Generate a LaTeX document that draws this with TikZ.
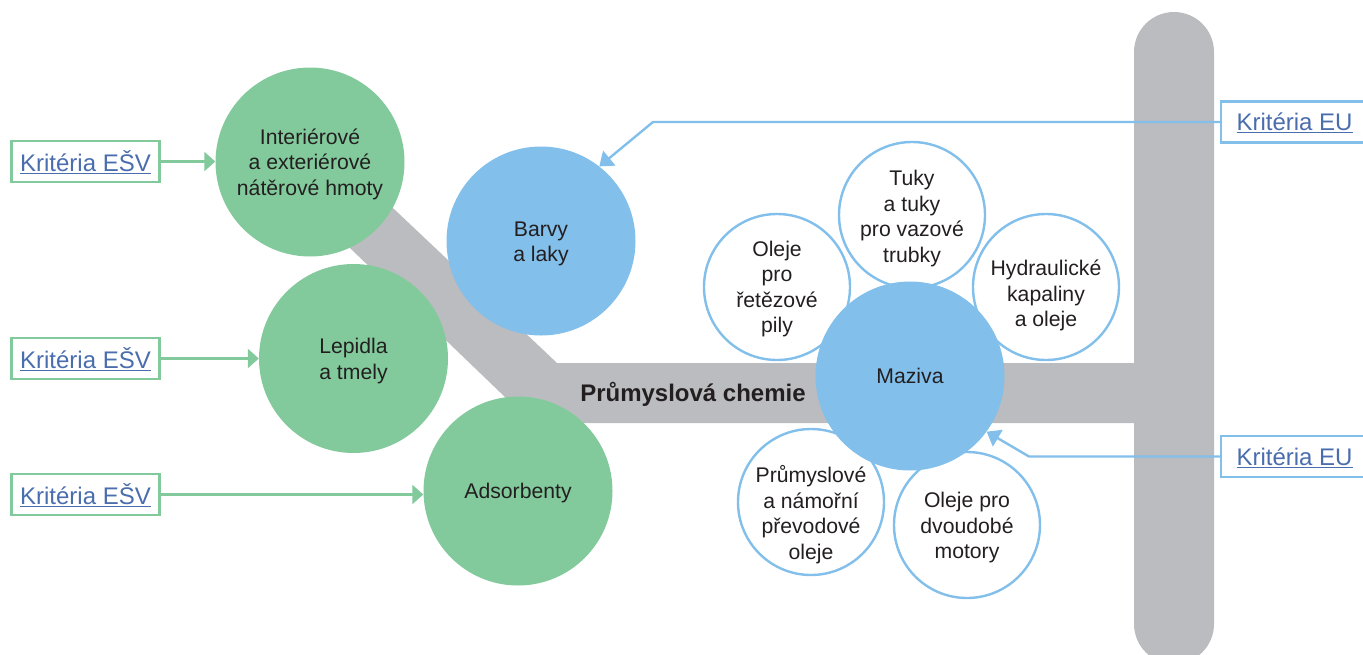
\documentclass[tikz,border=0pt]{standalone}
\usepackage{fontspec}
\setmainfont{Liberation Sans}
\usetikzlibrary{arrows.meta}
\definecolor{barg}{HTML}{BBBCBF}
\definecolor{grn}{HTML}{82CA9C}
\definecolor{blu}{HTML}{82BFEA}
\definecolor{lnk}{HTML}{4A6DAE}
\definecolor{txt}{HTML}{231F20}
\tikzset{
  big/.style={circle,fill=#1,minimum size=189pt,inner sep=0pt,text=txt,font=\fontsize{21.2}{25.5}\selectfont},
  small/.style={circle,draw=blu,line width=2.4pt,fill=white,minimum size=146pt,inner sep=0pt,text=txt,font=\fontsize{21.2}{25.5}\selectfont},
  crit/.style={draw=#1,line width=2.4pt,fill=white,inner sep=0pt,minimum height=41pt,text=lnk,font=\fontsize{24}{28}\selectfont},
  conn/.style={draw=#1,line width=2.4pt,-{Triangle[length=11pt,width=19pt]}},
  connb/.style={draw=#1,line width=2.4pt,line join=round,-{Triangle[length=13pt,width=19pt]}},
}
\newcommand{\lnktext}[1]{\raisebox{-1pt}[\height][\depth]{\underline{#1}}}
% lines set in a centred stack, moved down by #1 without changing the node's size
\newcommand{\tx}[2]{\makebox[0pt]{\raisebox{-#1}[\height][\depth]{\begin{tabular}{@{}c@{}}#2\end{tabular}}}}
\begin{document}
\begin{tikzpicture}[x=1pt,y=-1pt]
\useasboundingbox (0,0) rectangle (1363,654);
\clip (0,0) rectangle (1363,654);
% grey bars
\fill[barg] (340,158) -- (557,363) -- (1134,363) -- (1134,423) -- (532,423) -- (300,200) -- cycle;
\fill[barg,rounded corners=40pt] (1134,12) rectangle (1214,664);
\node[font=\bfseries\fontsize{24}{28}\selectfont,text=txt] (title) at (693,394) {Průmyslová chemie};
% small circles
\node[small] (tuky) at (912,215) {\tx{4pt}{Tuky\\a tuky\\pro vazové\\trubky}};
\node[small] (pily) at (777,287) {\tx{2.5pt}{Oleje\\pro\\řetězové\\pily}};
\node[small] (hydr) at (1046,287) {\tx{9pt}{Hydraulické\\kapaliny\\a oleje}};
\node[small] (prev) at (811,502) {\tx{14pt}{Průmyslové\\a námořní\\převodové\\oleje}};
\node[small] (dvou) at (967,525) {\tx{3pt}{Oleje pro\\dvoudobé\\motory}};
% large circles
\node[big=grn] (inter) at (310,162) {\tx{2.5pt}{Interiérové\\a exteriérové\\nátěrové hmoty}};
\node[big=grn] (lep) at (353.5,358.5) {\tx{3pt}{Lepidla\\a tmely}};
\node[big=grn] (ads) at (518,491) {\tx{2pt}{Adsorbenty}};
\node[big=blu] (barvy) at (541,241) {\tx{3pt}{Barvy\\a laky}};
\node[big=blu] (maz) at (910,376) {\tx{2pt}{Maziva}};
% criteria boxes
\node[crit=grn,minimum width=148pt] (k1) at (85.5,161.5) {\lnktext{Kritéria EŠV}};
\node[crit=grn,minimum width=148pt] (k2) at (85.5,358.5) {\lnktext{Kritéria EŠV}};
\node[crit=grn,minimum width=148pt] (k3) at (85.5,494.5) {\lnktext{Kritéria EŠV}};
\node[crit=blu,minimum width=160pt] (e1) at (1301,122) {\hspace*{-13pt}\lnktext{Kritéria EU}};
\node[crit=blu,minimum width=160pt] (e2) at (1301,456.5) {\hspace*{-13pt}\lnktext{Kritéria EU}};
% connectors
\draw[conn=grn] (k1.east) -- (inter.west |- k1.east);
\draw[conn=grn] (k2.east) -- (lep.west |- k2.east);
\draw[conn=grn] (k3.east) -- (ads.west |- k3.east);
\coordinate (b1) at (653,122);
\coordinate (b2) at (1029,456.5);
\draw[connb=blu] (e1.west) -- (b1) -- (barvy.52);
\draw[connb=blu] (e2.west) -- (b2) -- (maz.-36.5);
\end{tikzpicture}
\end{document}
